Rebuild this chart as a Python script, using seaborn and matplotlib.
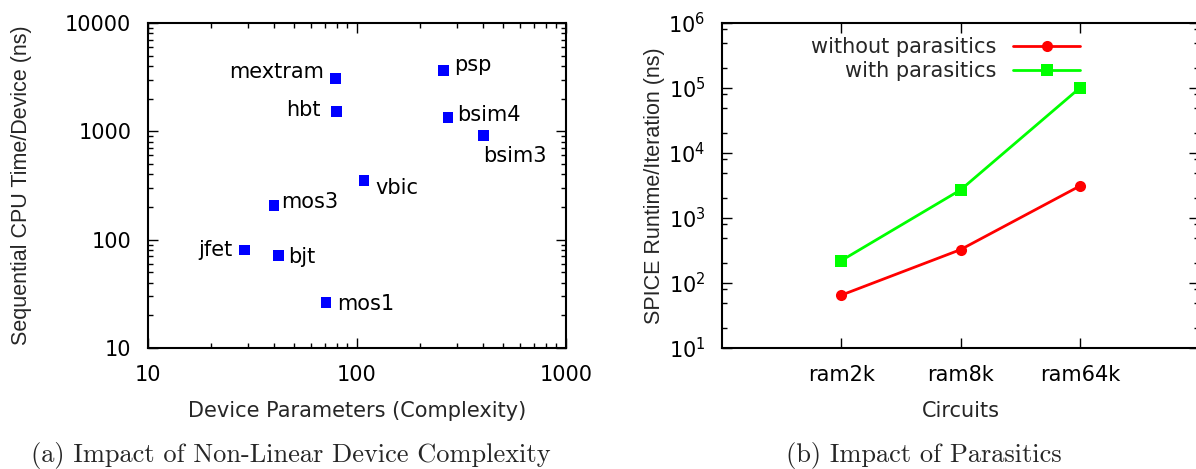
import numpy as np
import pandas as pd
import matplotlib
matplotlib.use("Agg")
import matplotlib.pyplot as plt
import seaborn as sns
from matplotlib.ticker import LogLocator, NullFormatter, FixedLocator
from matplotlib.lines import Line2D

# ---- data: panel (a) ----
devices = ["mextram", "psp", "hbt", "bsim4", "bsim3", "vbic", "mos3", "jfet", "bjt", "mos1"]
params = [79, 260, 80, 272, 404, 108, 40, 29, 42, 71]
cpu_time = [3085, 3650, 1520, 1345, 912, 350, 207, 80, 71, 26.4]
xticks_a = [10, 100, 1000]
xticklabels_a = ["10", "100", "1000"]
yticks_a = [10, 100, 1000, 10000]
yticklabels_a = ["10", "100", "1000", "10000"]

# ---- data: panel (b) ----
circuits = ["ram2k", "ram8k", "ram64k"]
without_par = [65, 326, 3100]
with_par = [221, 2700, 100000]
series_names = ["without parasitics", "with parasitics"]

sns.set_theme(style="ticks")
plt.rcParams["font.family"] = ["DejaVu Sans"]
plt.rcParams["mathtext.fontset"] = "dejavusans"
FS = 15
YLAB_FONT = dict(family=["Liberation Sans", "DejaVu Sans"], fontsize=15.5)

W, H = 1196, 469
fig = plt.figure(figsize=(W / 100, H / 100), dpi=100)
fig.patch.set_facecolor("white")

def px_axes(l, t, r, b):
    return fig.add_axes([l / W, 1 - b / H, (r - l) / W, (b - t) / H])

axA = px_axes(148, 23, 566, 348)
axB = px_axes(722, 23, 1199, 348)

for ax in (axA, axB):
    ax.set_facecolor("white")
    for s in ax.spines.values():
        s.set_visible(True)
        s.set_linewidth(1.5)
        s.set_color("black")
    ax.tick_params(which="both", direction="in", top=True, right=True,
                   colors="black", labelsize=FS, width=1.0)
    ax.tick_params(which="major", length=7)
    ax.tick_params(which="minor", length=3.5)

# ---- panel (a) ----
dfA = pd.DataFrame({"device": devices, "params": params, "time": cpu_time})
sns.scatterplot(data=dfA, x="params", y="time", ax=axA, marker="s", s=58,
                color="#0000ff", edgecolor="none", linewidth=0, zorder=3)
axA.set_xscale("log")
axA.set_yscale("log")
axA.set_xlim(10, 1000)
axA.set_ylim(10, 10000)
axA.set_xticks(xticks_a)
axA.set_xticklabels(xticklabels_a)
axA.set_yticks(yticks_a)
axA.set_yticklabels(yticklabels_a)
for axis in (axA.xaxis, axA.yaxis):
    axis.set_minor_locator(LogLocator(base=10, subs=np.arange(2, 10)))
    axis.set_minor_formatter(NullFormatter())
axA.tick_params(axis="y", pad=12)
axA.tick_params(axis="x", pad=12)
axA.set_xlabel("Device Parameters (Complexity)", fontsize=FS, labelpad=12)
axA.set_ylabel("Sequential CPU Time/Device (ns)", labelpad=24, **YLAB_FONT)

label_offsets = {
    "mextram": (-12, 6, "right"),
    "psp": (10, 5, "left"),
    "hbt": (-16, 2, "right"),
    "bsim4": (9, 2, "left"),
    "bsim3": (-1, -20, "left"),
    "vbic": (11, -7, "left"),
    "mos3": (7, 3, "left"),
    "jfet": (-12, 0, "right"),
    "bjt": (10, -1, "left"),
    "mos1": (11, -2, "left"),
}
for name, xv, yv in zip(devices, params, cpu_time):
    dx, dy, ha = label_offsets[name]
    axA.annotate(name, (xv, yv), xytext=(dx, dy), textcoords="offset pixels",
                 ha=ha, va="center", fontsize=FS, color="black")

# ---- panel (b) ----
dfB = pd.DataFrame({
    "circuit": circuits * 2,
    "runtime": without_par + with_par,
    "series": [series_names[0]] * 3 + [series_names[1]] * 3,
})
palette = {series_names[0]: "#ff0000", series_names[1]: "#00ff00"}
sns.lineplot(data=dfB, x="circuit", y="runtime", hue="series", style="series",
             markers={series_names[0]: "o", series_names[1]: "s"}, dashes=False,
             palette=palette, ax=axB, linewidth=2.0, markersize=8,
             markeredgewidth=0, legend=False, sort=False)
axB.set_yscale("log")
axB.set_ylim(10, 1e6)
axB.set_xlim(-1, 3)
axB.xaxis.set_major_locator(FixedLocator([0, 1, 2]))
axB.set_xticklabels(circuits)
axB.yaxis.set_major_locator(LogLocator(base=10, numticks=10))
axB.yaxis.set_minor_locator(LogLocator(base=10, subs=(2, 5, 8), numticks=20))
axB.yaxis.set_minor_formatter(NullFormatter())
axB.tick_params(axis="y", pad=12)
axB.tick_params(axis="x", pad=12)
axB.set_xlabel("Circuits", fontsize=FS, labelpad=12)
axB.set_ylabel("SPICE Runtime/Iteration (ns)", labelpad=2, **YLAB_FONT)

handles = [
    Line2D([], [], color="#ff0000", marker="o", markersize=8, lw=2.0, markeredgewidth=0),
    Line2D([], [], color="#00ff00", marker="s", markersize=8, lw=2.0, markeredgewidth=0),
]
leg = axB.legend(handles, series_names, loc="upper right", markerfirst=False,
                 frameon=False, fontsize=FS, handlelength=3.2, handletextpad=0.8,
                 labelspacing=0.2, borderpad=0, borderaxespad=0,
                 bbox_to_anchor=(1080 / W, 1 - 37 / H), bbox_transform=fig.transFigure)

# ---- captions ----
fig.text(291 / W, 1 - 455 / H, "(a) Impact of Non-Linear Device Complexity",
         family="cmr10", fontsize=19, ha="center", va="center")
fig.text(924 / W, 1 - 455 / H, "(b) Impact of Parasitics",
         family="cmr10", fontsize=19, ha="center", va="center")

fig.savefig("out.png", dpi=100, facecolor="white")
